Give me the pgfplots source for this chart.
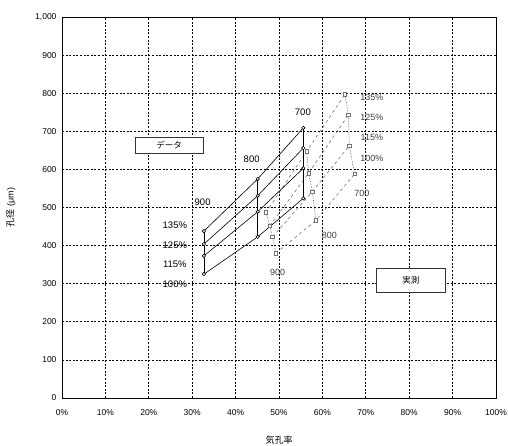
\documentclass[border=0pt]{standalone}
\usepackage{pgfplots}
\pgfplotsset{compat=1.18}
\usepackage{fontspec}
\setmainfont{Liberation Sans}
\newfontfamily\jp{Noto Sans CJK JP}
\begin{document}
\begin{tikzpicture}[x=1pt,y=1pt]
\useasboundingbox (-62,-47) rectangle (446,398);
\begin{axis}[
  at={(0,0)}, anchor=south west,
  width=434pt, height=381pt, scale only axis,
  xmin=0, xmax=100, ymin=0, ymax=1000,
  xtick={0,10,...,100}, ytick={0,100,...,1000},
  /pgf/number format/assume math mode=true,
  /pgf/number format/1000 sep={,},
  xticklabel={\pgfmathprintnumber{\tick}\%},
  tick label style={font=\fontsize{8.5}{10}\selectfont},
  xticklabel style={yshift=-8pt},
  yticklabel style={xshift=-2pt},
  major tick length=0pt,
  grid=major,
  major grid style={black, dash pattern=on 2pt off 1.6pt, line width=0.7pt},
  axis line style={black, line width=0.9pt},
  xlabel={\jp 気孔率},
  ylabel={{\jp 孔径} (μm)},
  label style={font=\fontsize{9}{10}\selectfont},
  xlabel style={at={(axis description cs:0.5,-0.110)}, anchor=center},
  ylabel style={at={(axis description cs:-0.118,0.5)}, anchor=center, rotate=0},
  clip=false,
  every axis plot/.append style={line width=0.6pt},
]
% --- measured (dashed, squares) ---
\addplot[black!55, dashed, mark=square*, mark size=1.7pt, mark options={solid, fill=white}]
  coordinates {(47.0,487) (56.4,648) (65.2,797)};
\addplot[black!55, dashed, mark=square*, mark size=1.7pt, mark options={solid, fill=white}]
  coordinates {(47.9,452) (56.8,590) (66.0,743)};
\addplot[black!55, dashed, mark=square*, mark size=1.7pt, mark options={solid, fill=white}]
  coordinates {(48.5,423) (57.7,542) (66.2,662)};
\addplot[black!55, dashed, mark=square*, mark size=1.7pt, mark options={solid, fill=white}]
  coordinates {(49.3,380) (58.5,466) (67.4,588)};
\addplot[black!70, densely dotted] coordinates {(47.0,487) (47.9,452) (48.5,423) (49.3,380)};
\addplot[black!70, densely dotted] coordinates {(56.4,648) (56.8,590) (57.7,542) (58.5,466)};
\addplot[black!70, densely dotted] coordinates {(65.2,797) (66.0,743) (66.2,662) (67.4,588)};
% --- data (solid, circles) ---
\addplot[black, mark=*, mark size=1.7pt, mark options={fill=white}]
  coordinates {(32.7,438) (45.1,575) (55.6,709)};
\addplot[black, mark=*, mark size=1.7pt, mark options={fill=white}]
  coordinates {(32.7,404) (45.1,531) (55.6,656)};
\addplot[black, mark=*, mark size=1.7pt, mark options={fill=white}]
  coordinates {(32.7,373) (45.1,489) (55.6,603)};
\addplot[black, mark=*, mark size=1.7pt, mark options={fill=white}]
  coordinates {(32.7,325) (45.1,423) (55.6,524)};
\addplot[black] coordinates {(32.7,325) (32.7,438)};
\addplot[black] coordinates {(45.1,423) (45.1,575)};
\addplot[black] coordinates {(55.6,524) (55.6,709)};
% --- labels ---
\begin{scope}[every node/.style={font=\fontsize{9.5}{11}\selectfont, inner sep=1pt}]
\node at (axis cs:32.4,513) {900};
\node at (axis cs:43.7,627) {800};
\node at (axis cs:55.5,749) {700};
\node at (axis cs:26.0,454) {135\%};
\node at (axis cs:26.0,402) {125\%};
\node at (axis cs:26.0,352) {115\%};
\node at (axis cs:26.0,299) {100\%};
\end{scope}
\begin{scope}[every node/.style={font=\fontsize{9}{10}\selectfont, text=black!75, inner sep=1pt}]
\node at (axis cs:71.4,788) {135\%};
\node at (axis cs:71.4,737) {125\%};
\node at (axis cs:71.4,683) {115\%};
\node at (axis cs:71.4,629) {100\%};
\node at (axis cs:69.1,537) {700};
\node at (axis cs:61.6,428) {800};
\node at (axis cs:49.7,330) {900};
\end{scope}
\node[draw=black!80, line width=0.6pt, fill=white, minimum width=68pt, minimum height=15.5pt, inner sep=0pt, font=\jp\fontsize{8.5}{10}\selectfont] at (axis cs:24.7,663) {データ};
\node[draw=black!80, line width=0.6pt, fill=white, minimum width=69pt, minimum height=24pt, inner sep=0pt, font=\jp\fontsize{8.5}{10}\selectfont] at (axis cs:80.4,308) {実測};
\end{axis}
\end{tikzpicture}
\end{document}
